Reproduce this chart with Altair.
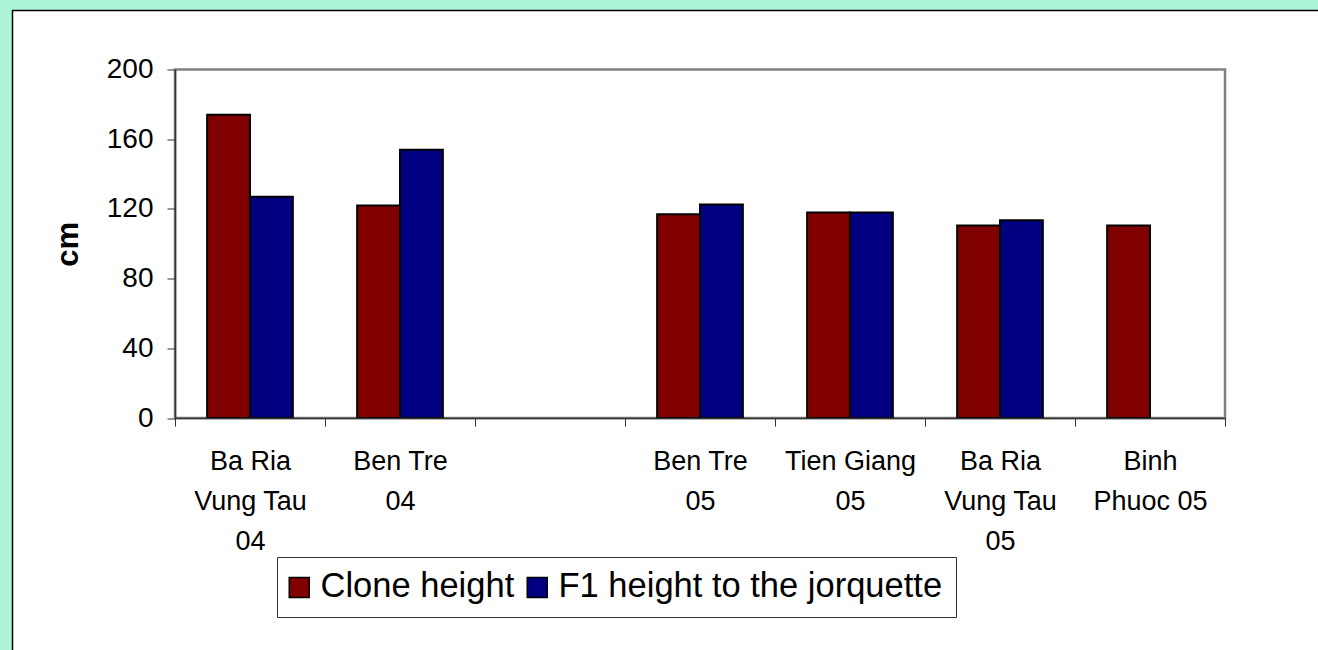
import altair as alt
import pandas as pd

# Sites (line breaks marked with "|"); the blank slot keeps an empty gap on the axis
categories = [
    "Ba Ria|Vung Tau|04",
    "Ben Tre|04",
    " ",
    "Ben Tre|05",
    "Tien Giang|05",
    "Ba Ria|Vung Tau|05",
    "Binh|Phuoc 05",
]
series_names = ["Clone height", "F1 height to the jorquette"]
clone_height = [174, 122, None, 117, 118, 110.5, 110.5]
f1_height = [127, 154, None, 122.5, 118, 113.5, None]
y_ticks = [0, 40, 80, 120, 160, 200]

rows = []
for cat, c, f in zip(categories, clone_height, f1_height):
    if c is not None:
        rows.append({"site": cat, "series": series_names[0], "cm": c})
    if f is not None:
        rows.append({"site": cat, "series": series_names[1], "cm": f})
df = pd.DataFrame(rows)

FONT = "Liberation Sans"
PLOT_W, PLOT_H = 1050, 348.5
one_row = pd.DataFrame({"k": [0]})

# White card with a dark edge behind the plot
panel = alt.Chart(one_row).mark_rect(
    fill="white", stroke="black", strokeWidth=1.5
).encode(
    x=alt.value(-162.5), x2=alt.value(1160),
    y=alt.value(-59), y2=alt.value(600),
)

# Grey plot-area frame
frame = alt.Chart(one_row).mark_rect(
    fillOpacity=0, stroke="#808080", strokeWidth=2.5
).encode(
    x=alt.value(0), x2=alt.value(PLOT_W),
    y=alt.value(0), y2=alt.value(PLOT_H),
)

bars = alt.Chart(df).mark_bar(stroke="black", strokeWidth=2).encode(
    x=alt.X(
        "site:N",
        sort=categories,
        scale=alt.Scale(domain=categories, paddingInner=0, paddingOuter=0),
        axis=alt.Axis(
            title=None,
            zindex=1,
            labelExpr="split(datum.label, '|')",
            labelAngle=0,
            labelFont=FONT,
            labelFontSize=27,
            labelColor="black",
            labelLineHeight=40,
            labelPadding=22,
            labelBaseline="top",
            tickBand="extent",
            tickSize=8,
            tickColor="#333333",
            domainColor="#333333",
            domainWidth=1.5,
        ),
    ),
    xOffset=alt.XOffset(
        "series:N",
        sort=series_names,
        scale=alt.Scale(domain=series_names, paddingInner=0, paddingOuter=0.75),
    ),
    y=alt.Y(
        "cm:Q",
        scale=alt.Scale(domain=[0, 200], nice=False),
        axis=alt.Axis(
            title="cm",
            zindex=1,
            titleFont=FONT,
            titleFontSize=31,
            titleFontWeight="bold",
            titleColor="black",
            titlePadding=22,
            values=y_ticks,
            labelFont=FONT,
            labelFontSize=28,
            labelColor="black",
            labelPadding=14,
            tickSize=8,
            tickColor="#333333",
            domainColor="#333333",
            domainWidth=1.5,
            grid=False,
        ),
    ),
    color=alt.Color(
        "series:N",
        sort=series_names,
        scale=alt.Scale(domain=series_names, range=["#800000", "#000080"]),
        legend=alt.Legend(
            title=None,
            orient="none",
            legendX=102,
            legendY=487.5,
            direction="horizontal",
            symbolType="square",
            symbolSize=400,
            symbolOffset=-8,
            symbolStrokeColor="black",
            symbolStrokeWidth=1.5,
            symbolOpacity=1,
            labelFont=FONT,
            labelFontSize=34.5,
            labelColor="black",
            labelOffset=4,
            labelLimit=0,
            columnPadding=9,
            padding=13,
            strokeColor="#333333",
            fillColor="white",
        ),
    ),
)

chart = alt.layer(panel, frame, bars).properties(
    width=PLOT_W,
    height=PLOT_H,
    background="#aef4d8",
    autosize=alt.AutoSizeParams(type="none"),
    padding={"left": 175, "top": 69.5, "right": 93, "bottom": 232},
).configure_view(
    stroke=None
)

chart.save("out.html", embed_options={"renderer": "svg", "actions": False})
